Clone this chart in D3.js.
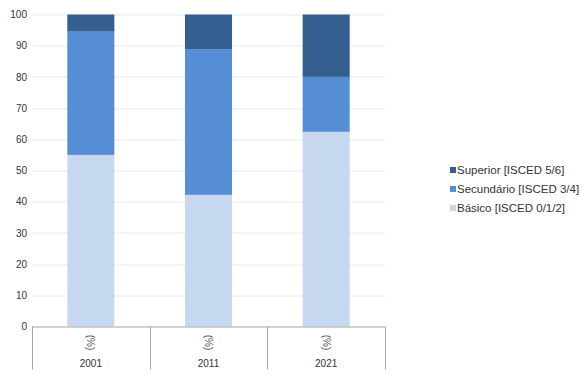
<!DOCTYPE html>
<html lang="pt">
<head>
<meta charset="UTF-8">
<script src="https://d3js.org/d3.v7.min.js"></script>
<style>
    body { margin: 0; background: #fff; font-family: "Liberation Sans", Arial, sans-serif; }
    .tick line { display: none; }
    .tick text { font-size: 10px; fill: #333; font-family: "Liberation Sans", Arial, sans-serif; }
</style>
</head>
<body>
<svg id="chart" width="583" height="378"></svg>
<script>
    const years = ["2001", "2011", "2021"];
    const unitLabel = "(%)";
    const seriesNames = ["Básico [ISCED 0/1/2]", "Secundário [ISCED 3/4]", "Superior [ISCED 5/6]"];
    const basico = [55.0, 42.2, 62.4];
    const secundario = [39.5, 46.7, 17.6];
    const superior = [5.5, 11.1, 20.0];
    const colors = ["#c6d9f1", "#558ed5", "#355f91"];
    const yTicks = [0, 10, 20, 30, 40, 50, 60, 70, 80, 90, 100];

    const margin = {top: 14.5, left: 32, right: 198, bottom: 51};
    const W = 583, H = 378;
    const width = W - margin.left - margin.right;
    const height = H - margin.top - margin.bottom - 0.5;

    const svg = d3.select("#chart");
    const g = svg.append("g").attr("transform", `translate(${margin.left},${margin.top})`);

    const rows = years.map((yr, i) => ({year: yr, b: basico[i], s: secundario[i], u: superior[i]}));
    const stack = d3.stack().keys(["b", "s", "u"]);
    const layers = stack(rows);

    const x = d3.scaleBand().domain(years).range([0, width]).paddingInner(0.6).paddingOuter(0.3);
    const xOuter = d3.scaleBand().domain(years).range([0, width]);
    const y = d3.scaleLinear().domain([0, 100]).range([height, 0]);

    // gridlines
    g.selectAll(".grid").data(yTicks.filter(t => t > 0)).enter().append("line")
        .attr("x1", 0).attr("x2", width)
        .attr("y1", d => Math.round(y(d)) + 0.5).attr("y2", d => Math.round(y(d)) + 0.5)
        .attr("stroke", "#e6ecf2").attr("stroke-width", 1);

    // y axis
    const yAxis = g.append("g").attr("transform", "translate(-4,0)")
        .call(d3.axisLeft(y).tickValues(yTicks).tickSize(0).tickPadding(1));
    yAxis.select(".domain").remove();

    // bars
    layers.forEach((layer, li) => {
        g.selectAll(".bar" + li).data(layer).enter().append("rect")
            .attr("x", d => x(d.data.year))
            .attr("width", x.bandwidth())
            .attr("y", d => y(d[1]))
            .attr("height", d => y(d[0]) - y(d[1]))
            .attr("fill", colors[li]);
    });

    // category axis with boxes
    g.append("line").attr("x1", 0).attr("x2", width)
        .attr("y1", height + 0.5).attr("y2", height + 0.5)
        .attr("stroke", "#a6a6a6");
    const bounds = years.map(yr => xOuter(yr)).concat([width]);
    g.selectAll(".div").data(bounds).enter().append("line")
        .attr("x1", d => Math.round(d) + 0.5).attr("x2", d => Math.round(d) + 0.5)
        .attr("y1", height).attr("y2", height + 43)
        .attr("stroke", "#a6a6a6");
    years.forEach(yr => {
        const cx = xOuter(yr) + xOuter.bandwidth() / 2;
        g.append("text")
            .attr("transform", `translate(${cx},${height + 16}) rotate(90)`)
            .attr("text-anchor", "middle").attr("dominant-baseline", "central")
            .attr("font-size", 10).attr("fill", "#555")
            .text(unitLabel);
        g.append("text")
            .attr("x", cx).attr("y", height + 40)
            .attr("text-anchor", "middle")
            .attr("font-size", 10).attr("fill", "#333")
            .text(yr);
    });

    // legend (reverse order, top = Superior)
    const legend = svg.append("g").attr("transform", "translate(450,170)");
    [2, 1, 0].forEach((si, k) => {
        const row = legend.append("g").attr("transform", `translate(0,${k * 19})`);
        row.append("rect").attr("x", 0).attr("y", -3).attr("width", 6).attr("height", 6).attr("fill", colors[si]);
        row.append("text").attr("x", 7).attr("y", 0).attr("dominant-baseline", "central")
            .attr("font-size", 11.5).attr("fill", "#333").text(seriesNames[si]);
    });
</script>
</body>
</html>
